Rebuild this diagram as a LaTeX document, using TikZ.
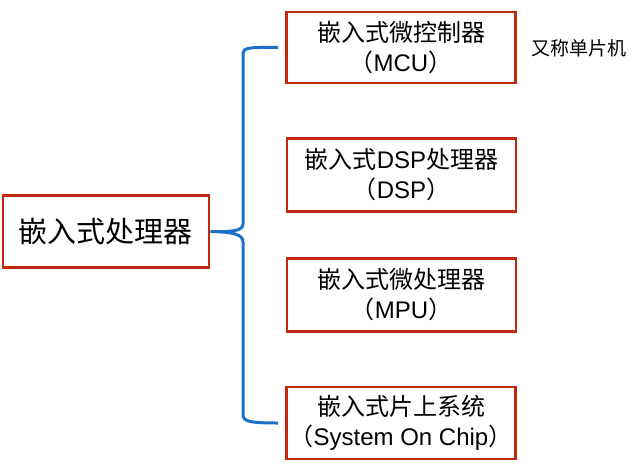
\documentclass[tikz,border=0pt]{standalone}
\usepackage{fontspec}
\setmainfont{Liberation Sans}
\newfontfamily\cjk{Noto Sans CJK SC}
\usepackage{xcolor}
\definecolor{boxred}{rgb}{0.75, 0.16, 0.06}
\definecolor{braceblue}{rgb}{0.12, 0.44, 0.78}

\begin{document}
\begin{tikzpicture}[x=1pt,y=-1pt,
  item/.style={draw=boxred,line width=2.6pt,minimum width=229pt,align=center,
    inner sep=0pt,font=\fontsize{24}{30}\selectfont},
  brace/.style={draw=braceblue,line width=3pt}]
\useasboundingbox (0,0) rectangle (632,466);
\node[item,minimum width=206pt,minimum height=72pt,font=\fontsize{29}{34}\selectfont] (proc) at (106,231.5) {\cjk 嵌入式处理器};
\node[item,minimum height=71pt] (mcu) at (401,47.5) {{\cjk 嵌入式微控制器}\\{\cjk （}MCU{\cjk ）}};
\node[item,minimum height=73pt] (dsp) at (401.5,175) {{\cjk 嵌入式}DSP{\cjk 处理器}\\{\cjk （}DSP{\cjk ）}};
\node[item,minimum height=73pt] (mpu) at (401.5,295) {{\cjk 嵌入式微处理器}\\{\cjk （}MPU{\cjk ）}};
\node[item,minimum height=72pt] (soc) at (401,423) {{\cjk 嵌入式片上系统}\\{\cjk （}System On Chip{\cjk ）}};
\node[font=\fontsize{19}{22}\selectfont] (note) at (579,48) {\cjk 又称单片机};
\coordinate (top) at ([xshift=-7pt]mcu.west);
\coordinate (bot) at ([xshift=-7pt]soc.west);
\draw[brace] (top) .. controls (247,47) and (243,48) .. (243,54) -- (243,224)
  .. controls (243,231) and (232,232) .. (proc.east)
  .. controls (232,232) and (243,234) .. (243,242) -- (243,414)
  .. controls (243,421) and (247,423) .. (bot);
\end{tikzpicture}
\end{document}
